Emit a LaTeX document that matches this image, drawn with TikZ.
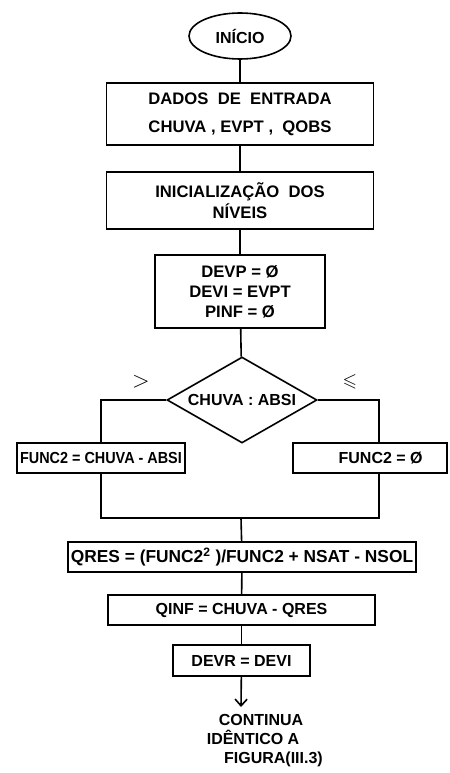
\documentclass[tikz,border=0pt]{standalone}
\usepackage{amssymb}
\usepackage{fontspec}
\setmainfont{Liberation Sans}
\usepackage{tikz}
\usetikzlibrary{shapes.geometric}
\usetikzlibrary{arrows.meta}

\begin{document}
\begin{tikzpicture}[x=0.75pt,y=0.75pt,yscale=-1,xscale=1,
  line width=1.2pt,
  bloco/.style={draw, rectangle, inner sep=1pt, align=center, font=\fontsize{12.5}{15}\selectfont\bfseries},
  blocop/.style={bloco, font=\fontsize{12}{14}\selectfont\bfseries},
  terminal/.style={draw, ellipse, inner sep=0pt, minimum width=76.5pt, minimum height=34.5pt, font=\fontsize{12}{14}\selectfont\bfseries},
  decisao/.style={draw, diamond, aspect=1.74, inner sep=0pt, minimum width=112.5pt, minimum height=64.5pt, font=\fontsize{12}{14}\selectfont\bfseries},
  rotulo/.style={inner sep=0.75pt, font=\fontsize{12}{14.25}\selectfont\bfseries}]
\useasboundingbox (0,0) rectangle (449,773);

%Shape: Ellipse [id:inicio]
\node (inicio) at (240,36) [terminal] {INÍCIO};
%Shape: Rectangle [id:dados]
\node (dados) at (240,114) [bloco, minimum width=200.25pt, minimum height=46.5pt] {DADOS\ \ DE\ \ ENTRADA\\[6pt] CHUVA ,\ EVPT ,\ \ QOBS};
%Shape: Rectangle [id:niveis]
\node (niveis) at (240,200.5) [bloco, minimum width=200.25pt, minimum height=42.75pt] {INICIALIZAÇÃO\ \ DOS\\[1pt] NÍVEIS};
%Shape: Rectangle [id:zera]
\node (zera) at (240,291.5) [bloco, minimum width=127.5pt, minimum height=54.75pt] {DEVP = Ø\\ DEVI = EVPT\\ PINF = Ø};
%Shape: Diamond [id:teste]
\node (teste) at (242,400) [decisao] {CHUVA : ABSI};
%Shape: Rectangle [id:excesso]
\node (excesso) at (101,458) [blocop, minimum width=126pt, minimum height=22.5pt] {\scalebox{0.9}[1]{FUNC2 = CHUVA - ABSI}};
%Shape: Rectangle [id:nulo]
\node (nulo) at (370,458) [blocop, minimum width=115.5pt, minimum height=22.5pt] {\hspace*{16pt}FUNC2 = Ø};
%Shape: Rectangle [id:qres]
\node (qres) at (242,557) [blocop, minimum width=261pt, minimum height=22.5pt, font=\fontsize{13}{15}\selectfont\bfseries] {QRES = (FUNC2\textsuperscript{2} )/FUNC2 + NSAT - NSOL};
%Shape: Rectangle [id:qinf]
\node (qinf) at (241.5,610) [blocop, minimum width=200.25pt, minimum height=22.5pt] {QINF = CHUVA - QRES};
%Shape: Rectangle [id:devr]
\node (devr) at (241.5,660.5) [blocop, minimum width=102.75pt, minimum height=23.25pt] {DEVR = DEVI};

% Coordinates
\coordinate (junta) at (241,518);
\coordinate (fim) at (241,707);

%Straight Lines
\draw (inicio) -- (dados);
\draw (dados) -- (niveis);
\draw (niveis) -- (zera);
\draw (zera) -- (teste);
\draw (teste.west) -| (excesso.north);
\draw (teste.east) -| ([xshift=6.75pt]nulo.north);
\draw (excesso.south) |- (junta) -| ([xshift=6.75pt]nulo.south);
\draw (junta) -- (qres);
\draw (qres) -- (qinf);
\draw (qinf) -- (devr);
\draw [-{Straight Barb[length=5pt,width=9pt]}] (devr) -- (fim);

% Text Node
\node (maior) at (141,382) [rotulo, font=\fontsize{16}{16}\selectfont] {$>$};
% Text Node
\node (menor) at (350,382) [rotulo, font=\fontsize{14}{14}\selectfont] {$\leqslant$};
% Text Node
\node (segue) at (205,713) [rotulo, anchor=north west, align=left] {\hspace*{9pt}CONTINUA\\ IDÊNTICO A\\ \hspace*{13pt}FIGURA(III.3)};

\end{tikzpicture}
\end{document}
